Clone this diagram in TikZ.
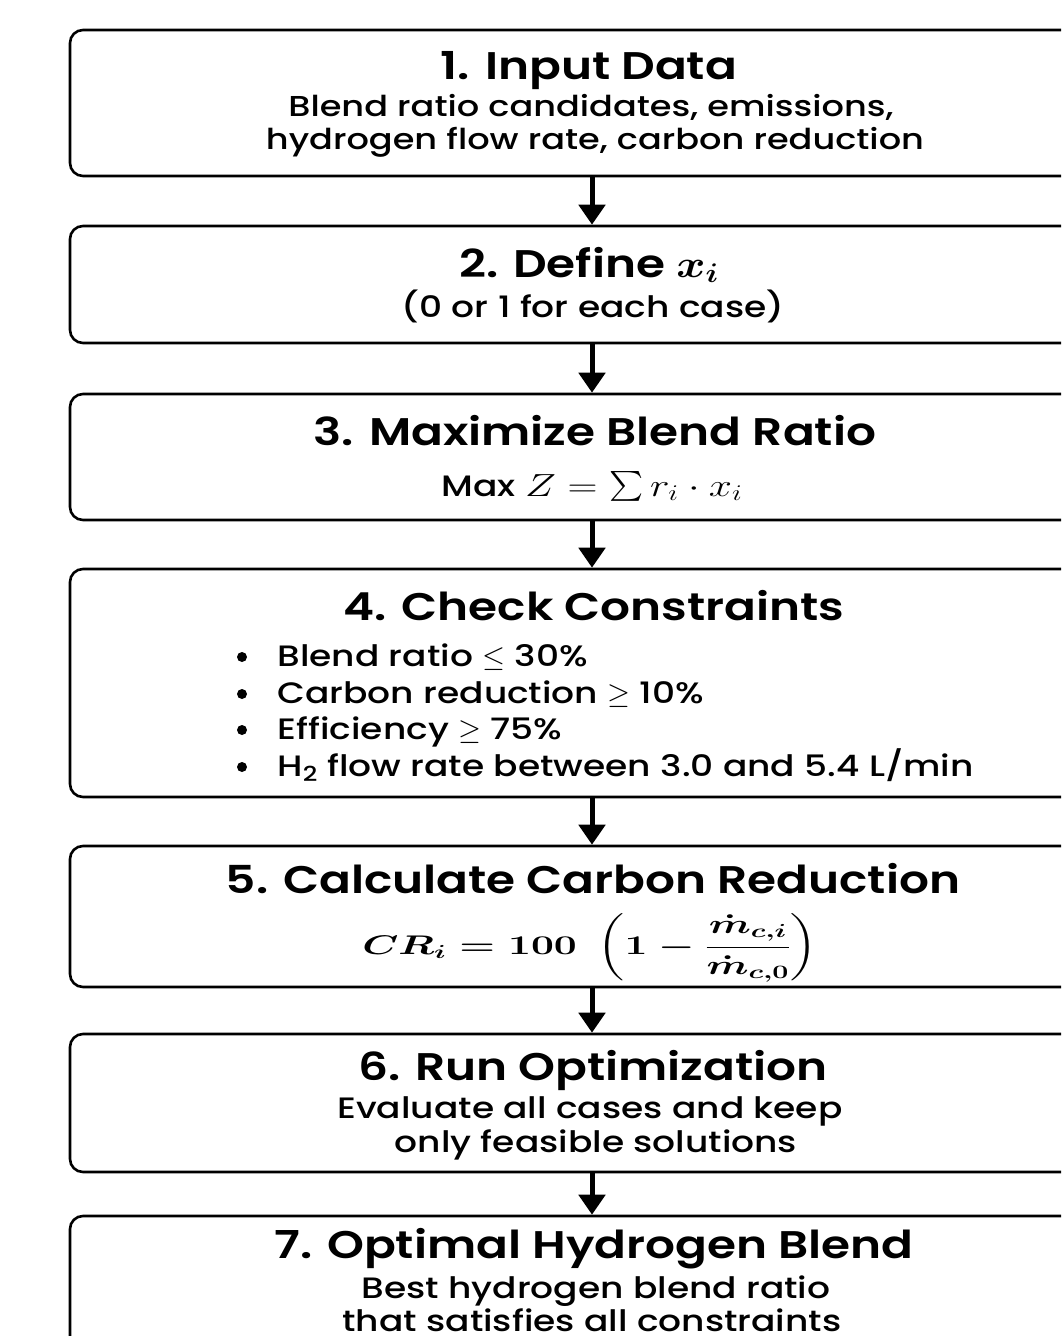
\RequirePackage{fix-cm}
\documentclass[tikz,border=0pt]{standalone}
\usepackage{amsmath}
\usepackage{graphicx}
\usepackage{fontspec}
\setmainfont{Poppins}[FakeStretch=1.22, UprightFont={* Medium}, BoldFont={* SemiBold}]
\usetikzlibrary{arrows.meta}
\newsavebox\crbox
\newsavebox\maxbox
\tikzset{
  box/.style={draw=black, line width=2.6pt, rounded corners=13pt, fill=white, inner sep=0pt},
  ttl/.style={anchor=base, font=\fontsize{38.5}{41}\selectfont\bfseries},
  bdy/.style={anchor=base, font=\fontsize{29.5}{32}\selectfont},
  bdya/.style={anchor=base, font=\fontsize{28.8}{32}\selectfont},
  bul/.style={anchor=base west, font=\fontsize{29.5}{32}\selectfont},
  dot/.style={circle, fill=black, inner sep=0pt, minimum size=10pt},
  frm/.style={anchor=center},
  flow/.style={line width=5pt, -{Triangle[width=26pt,length=20pt]}},
}
\begin{document}
\sbox\crbox{\scalebox{1.36}[0.9]{\fontsize{30}{33}\selectfont\boldmath$CR_i = 100\;\left(1-\dfrac{\dot{m}_{c,i}}{\dot{m}_{c,0}}\right)$}}%
\sbox\maxbox{\scalebox{1.3}[1]{\fontsize{32}{35}\selectfont$Z=\mathop{\scalebox{1}[1.2]{$\textstyle\sum$}} r_i\cdot x_i$}}%
\begin{tikzpicture}[x=1pt,y=-1pt]
\useasboundingbox (0,0) rectangle (1061,1336);
\clip (0,0) rectangle (1061,1336);
\fill[white] (0,0) rectangle (1061,1336);
% boxes
\node[box, minimum width=1044pt, minimum height=146pt] (b1) at (592,103) {};
\node[box, minimum width=1044pt, minimum height=117pt] (b2) at (592,284.5) {};
\node[box, minimum width=1044pt, minimum height=126pt] (b3) at (592,457) {};
\node[box, minimum width=1044pt, minimum height=228pt] (b4) at (592,683) {};
\node[box, minimum width=1044pt, minimum height=141pt] (b5) at (592,916.5) {};
\node[box, minimum width=1044pt, minimum height=138pt] (b6) at (592,1103) {};
\node[box, minimum width=1044pt, minimum height=184pt] (b7) at (592,1308) {};
% arrows
\draw[flow] (b1.south) -- (b2.north);
\draw[flow] (b2.south) -- (b3.north);
\draw[flow] (b3.south) -- (b4.north);
\draw[flow] (b4.south) -- (b5.north);
\draw[flow] (b5.south) -- (b6.north);
\draw[flow] (b6.south) -- (b7.north);
% box 1
\node[ttl] (t1) at (589,79) {1. Input Data};
\node[bdya] (t1a) at (591,116) {Blend ratio candidates, emissions,};
\node[bdya] (t1b) at (595,149) {hydrogen flow rate, carbon reduction};
% box 2
\node[ttl] (t2) at (589,277) {2. Define \scalebox{1.15}[1]{\boldmath$x_i$}};
\node[bdy] (t2a) at (593,317) {(0 or 1 for each case)};
% box 3
\node[ttl] (t3) at (595,445) {3. Maximize Blend Ratio};
\node[bdy] (t3a) at (592,496) {Max \usebox\maxbox};
% box 4
\node[ttl] (t4) at (594,620) {4. Check Constraints};
\node[dot] (d1) at (242,657) {};
\node[dot] (d2) at (242,694) {};
\node[dot] (d3) at (242,730) {};
\node[dot] (d4) at (242,767) {};
\node[bul] (c1) at (274,666) {Blend ratio $\leq$ 30\%};
\node[bul] (c2) at (274,703) {Carbon reduction $\geq$ 10\%};
\node[bul] (c3) at (274,739) {Efficiency $\geq$ 75\%};
\node[bul] (c4) at (274,776) {H\textsubscript{2} flow rate between 3.0 and 5.4 L/min};
% box 5
\node[ttl] (t5) at (593,893) {5. Calculate Carbon Reduction};
\node[frm] (t5a) at (590,948) {\usebox\crbox};
% box 6
\node[ttl] (t6) at (593,1080) {6. Run Optimization};
\node[bdy] (t6a) at (590,1118) {Evaluate all cases and keep};
\node[bdy] (t6b) at (596,1152) {only feasible solutions};
% box 7
\node[ttl] (t7) at (594,1258) {7. Optimal Hydrogen Blend};
\node[bdy] (t7a) at (596,1298) {Best hydrogen blend ratio};
\node[bdy] (t7b) at (592,1331) {that satisfies all constraints};
\end{tikzpicture}
\end{document}
